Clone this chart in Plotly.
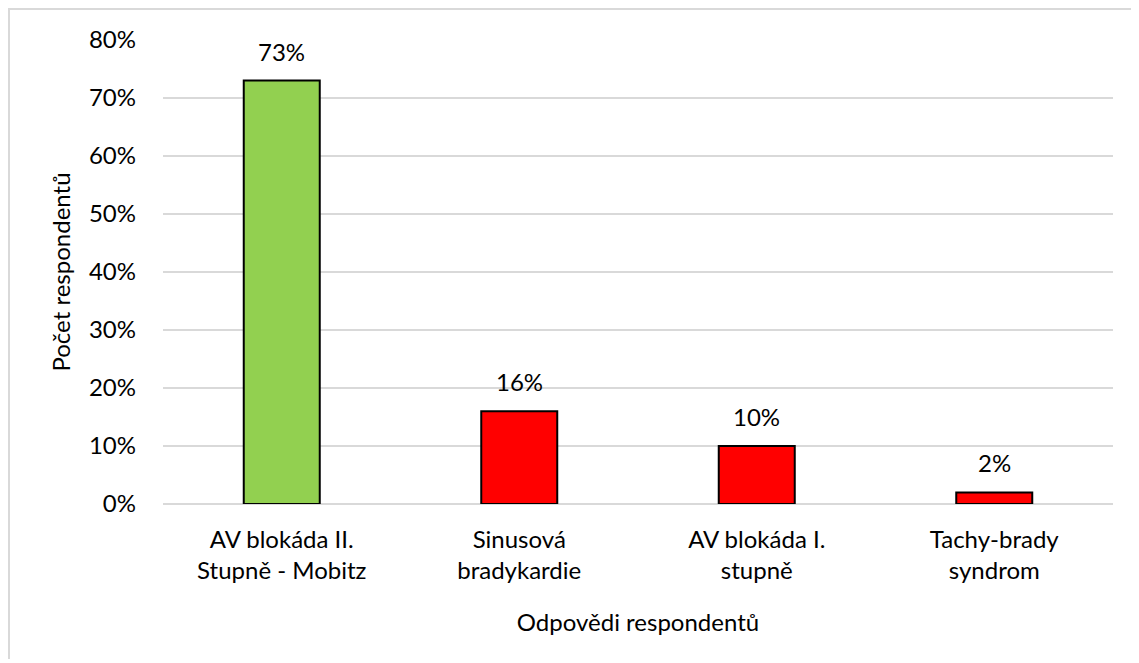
import plotly.graph_objects as go

# data
categories = ["AV blokáda II.<br>Stupně - Mobitz", "Sinusová<br>bradykardie",
              "AV blokáda I.<br>stupně", "Tachy-brady<br>syndrom"]
values = [0.73, 0.16, 0.10, 0.02]
labels = ["73%", "16%", "10%", "2%"]
bar_colors = ["#92D050", "#FF0000", "#FF0000", "#FF0000"]
y_ticks = [0, 0.1, 0.2, 0.3, 0.4, 0.5, 0.6, 0.7, 0.8]

FONT = "Lato, 'Noto Sans', sans-serif"
TEXT = "#000000"
GRID = "#D9D9D9"

W, H = 1131, 655
L, R, T, B = 155, 26, 32, 159
PW, PH = W - L - R, H - T - B

fig = go.Figure(go.Bar(
    x=categories, y=values,
    marker=dict(color=bar_colors, line=dict(color="#000000", width=2)),
    hovertemplate="%{x}: %{y:.0%}<extra></extra>",
))

# value labels above the bars
for cat, val, lab in zip(categories, values, labels):
    fig.add_annotation(x=cat, y=val, text=lab, showarrow=False,
                       yanchor="bottom", yshift=13,
                       font=dict(color=TEXT, size=24, family=FONT))

fig.update_layout(
    width=W, height=H,
    paper_bgcolor="white", plot_bgcolor="white",
    font=dict(family=FONT, color=TEXT, size=24),
    margin=dict(l=L, r=R, t=T, b=B),
    showlegend=False,
    bargap=0.68,
    xaxis=dict(
        title=dict(text="Odpovědi respondentů", font=dict(size=24), standoff=30),
        showgrid=False, showline=False, ticks="",
        ticklabelstandoff=19,
        tickfont=dict(size=24),
    ),
    yaxis=dict(
        title=dict(text="Počet respondentů", font=dict(size=24), standoff=11),
        range=[0, 0.8], tickvals=y_ticks, tickformat=".0%",
        showgrid=True, gridcolor=GRID, gridwidth=2,
        zeroline=True, zerolinecolor=GRID, zerolinewidth=2,
        showline=False, ticks="", ticklabelstandoff=26,
        tickfont=dict(size=24),
    ),
    shapes=[
        # chart border (top and left edges visible)
        dict(type="line", xref="paper", yref="paper",
             x0=-L / PW, x1=(W - L) / PW,
             y0=(PH + T - 1) / PH, y1=(PH + T - 1) / PH,
             line=dict(color=GRID, width=2)),
        dict(type="line", xref="paper", yref="paper",
             x0=(1 - L) / PW, x1=(1 - L) / PW,
             y0=-(B - 4) / PH, y1=(PH + T) / PH,
             line=dict(color=GRID, width=2)),
    ],
)

fig.write_html("out.html")
